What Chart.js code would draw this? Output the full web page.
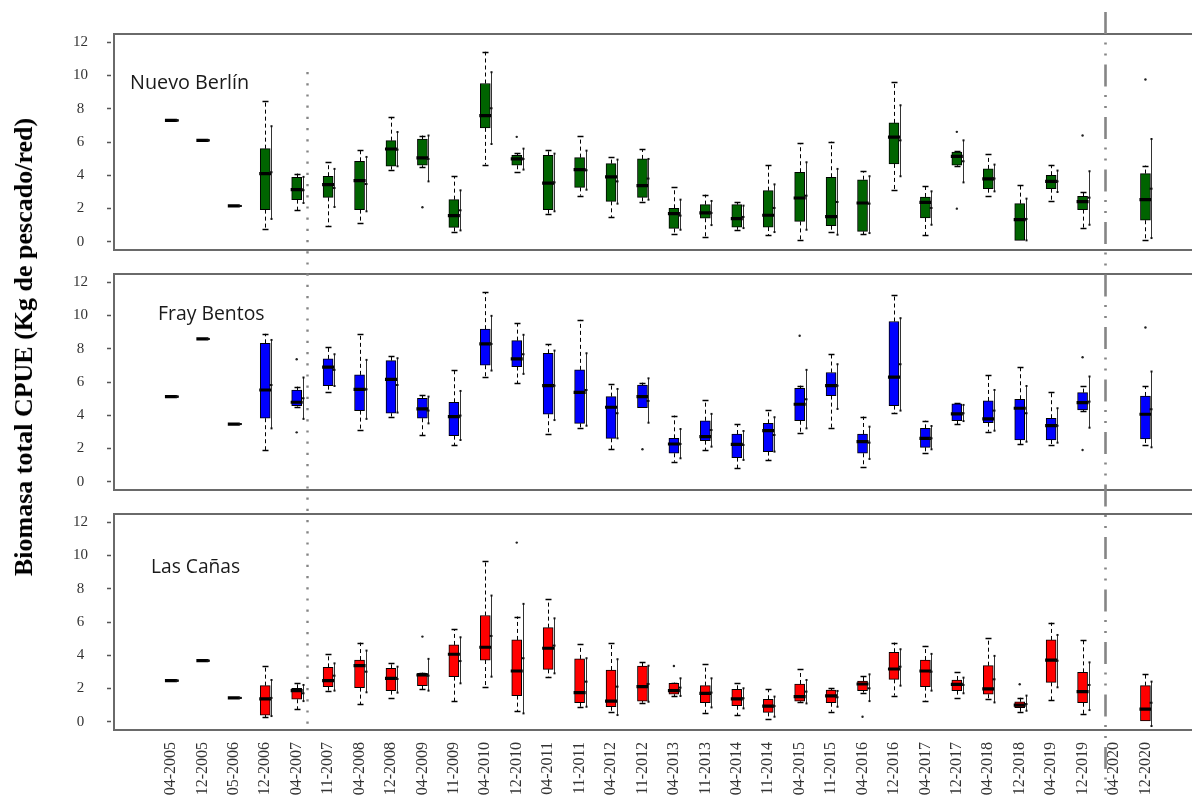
<!DOCTYPE html>
<html>
<head>
<meta charset="utf-8">
<script src="https://cdn.jsdelivr.net/npm/chart.js@4.4.1/dist/chart.umd.min.js"></script>
<style>
  html, body { margin: 0; padding: 0; background: #fff; overflow: hidden; }
  #wrap { position: relative; width: 1192px; height: 798px; overflow: hidden; background: #fff; }
  #wrap canvas { position: absolute; left: 0; }
  #ytitle {
    position: absolute;
    font: bold 26px "Liberation Serif", "Times New Roman", serif;
    line-height: 26px;
    color: #000;
    white-space: nowrap;
    transform: translate(-50%, -50%) rotate(-90deg);
  }
</style>
</head>
<body>
<div id="wrap">
  <canvas id="c1" width="1204" height="260" style="top:0px"></canvas>
  <canvas id="c2" width="1204" height="240" style="top:260px"></canvas>
  <canvas id="c3" width="1204" height="298" style="top:500px"></canvas>
  <div id="ytitle" style="left:24px; top:347px">Biomasa total CPUE (Kg de pescado/red)</div>
</div>
<script>
// Sampling campaigns (month-year)
const categories = ['04-2005','12-2005','05-2006','12-2006','04-2007','11-2007','04-2008','12-2008',
  '04-2009','11-2009','04-2010','12-2010','04-2011','11-2011','04-2012','11-2012','04-2013','11-2013',
  '04-2014','11-2014','04-2015','11-2015','04-2016','12-2016','04-2017','12-2017','04-2018','12-2018',
  '04-2019','12-2019','04-2020','12-2020'];
const yTicks = [0, 2, 4, 6, 8, 10, 12];
// Period boundaries, in campaign-index units
const periodBreaks = [4.33, 29.71];

// Nuevo Berlín
const nbMin  = [7.3, 6.1, 2.15, 0.76, 1.89, 0.96, 1.12, 4.34, 4.48, 0.58, 4.64, 4.18, 1.67, 2.77, 1.49, 2.39, 0.46, 0.28, 0.72, 0.40, 0.12, 0.56, 0.46, 3.13, 0.40, 4.54, 2.77, 0.08, 2.47, 0.82, null, 0.12];
const nbQ1   = [7.3, 6.1, 2.15, 1.93, 2.53, 2.67, 1.93, 4.54, 4.60, 0.86, 6.85, 4.60, 1.93, 3.27, 2.43, 2.67, 0.80, 1.41, 0.88, 0.88, 1.22, 0.96, 0.62, 4.68, 1.43, 4.60, 3.19, 0.08, 3.19, 1.93, null, 1.29];
const nbMed  = [7.3, 6.1, 2.15, 4.10, 3.13, 3.43, 3.67, 5.58, 5.04, 1.57, 7.59, 4.98, 3.53, 4.34, 3.90, 3.37, 1.69, 1.73, 1.39, 1.59, 2.63, 1.51, 2.33, 6.29, 2.37, 5.14, 3.78, 1.33, 3.63, 2.41, null, 2.53];
const nbQ3   = [7.3, 6.1, 2.15, 5.60, 3.88, 3.94, 4.84, 6.08, 6.18, 2.53, 9.52, 5.20, 5.20, 5.06, 4.70, 4.98, 2.01, 2.23, 2.23, 3.07, 4.18, 3.88, 3.73, 7.15, 2.69, 5.40, 4.38, 2.29, 4.00, 2.73, null, 4.10];
const nbMax  = [7.3, 6.1, 2.15, 8.49, 4.10, 4.78, 5.50, 7.51, 6.39, 3.94, 11.43, 5.34, 5.50, 6.35, 5.08, 5.58, 3.27, 2.83, 2.39, 4.64, 5.94, 6.02, 4.24, 9.60, 3.33, 5.44, 5.28, 3.41, 4.62, 2.97, null, 4.58];
const nbMean = [7.3, 6.1, 2.15, 4.18, 3.10, 3.23, 3.47, 5.54, 4.98, 1.89, 8.03, 4.98, 3.57, 4.30, 3.63, 3.80, 1.57, 1.73, 1.49, 2.03, 2.77, 2.39, 2.29, 6.10, 2.03, 4.84, 3.80, 1.37, 3.63, 2.65, null, 3.19];
const nbLo   = [7.3, 6.1, 2.15, 1.37, 2.33, 2.09, 1.83, 4.54, 3.63, 0.68, 5.88, 4.34, 1.83, 3.13, 2.29, 2.53, 0.72, 1.00, 0.82, 0.58, 0.72, 0.42, 0.52, 3.94, 1.02, 3.57, 3.03, 0.08, 2.99, 1.02, null, 0.22];
const nbHi   = [7.3, 6.1, 2.15, 6.95, 3.90, 4.38, 5.10, 6.60, 6.39, 3.09, 10.20, 5.60, 5.30, 5.48, 4.94, 4.98, 2.53, 2.45, 2.17, 3.45, 4.78, 4.38, 3.94, 8.21, 3.03, 6.10, 4.64, 2.59, 4.28, 4.24, null, 6.18];
const nbOut  = [[8, 2.07], [11, 6.31], [25, 6.61], [25, 1.99], [29, 6.39], [31, 9.76]];

// Fray Bentos
const fbMin  = [5.12, 8.59, 3.47, 1.91, 4.52, 5.38, 3.11, 3.92, 2.81, 2.21, 6.29, 5.92, 2.87, 3.25, 1.97, 4.46, 1.20, 1.91, 0.80, 1.31, 2.95, 3.25, 0.86, 4.12, 1.71, 3.47, 3.01, 2.27, 2.21, 4.26, null, 2.19];
const fbQ1   = [5.12, 8.59, 3.47, 3.82, 4.58, 5.78, 4.28, 4.12, 3.82, 2.77, 7.01, 6.93, 4.06, 3.51, 2.61, 4.46, 1.71, 2.47, 1.45, 1.81, 3.67, 5.18, 1.71, 4.58, 2.07, 3.67, 3.55, 2.51, 2.51, 4.32, null, 2.57];
const fbMed  = [5.12, 8.59, 3.47, 5.52, 4.78, 6.89, 5.56, 6.16, 4.38, 3.92, 8.29, 7.39, 5.78, 5.38, 4.48, 5.12, 2.27, 2.71, 2.25, 3.07, 4.66, 5.78, 2.41, 6.29, 2.61, 4.08, 3.78, 4.42, 3.37, 4.76, null, 4.06];
const fbQ3   = [5.12, 8.59, 3.47, 8.33, 5.52, 7.39, 6.43, 7.29, 5.02, 4.78, 9.18, 8.49, 7.73, 6.73, 5.12, 5.82, 2.61, 3.67, 2.87, 3.51, 5.62, 6.57, 2.87, 9.64, 3.21, 4.68, 4.86, 4.96, 3.82, 5.36, null, 5.16];
const fbMax  = [5.12, 8.59, 3.47, 8.90, 5.72, 8.13, 8.88, 7.59, 5.22, 6.73, 11.41, 9.54, 8.27, 9.74, 5.88, 5.96, 3.98, 4.92, 3.45, 4.32, 5.78, 7.67, 3.92, 11.24, 3.67, 4.72, 6.43, 6.93, 5.38, 5.76, null, 5.76];
const fbMean = [5.12, 8.59, 3.47, 5.82, 5.02, 6.73, 5.56, 5.82, 4.28, 3.98, 8.29, 7.67, 5.78, 5.52, 4.12, 4.86, 2.27, 3.11, 2.21, 2.81, 4.96, 5.78, 2.35, 7.07, 2.61, 4.12, 4.28, 4.12, 3.37, 4.82, null, 4.36];
const fbLo   = [5.12, 8.59, 3.47, 3.21, 3.78, 5.76, 3.78, 4.16, 3.51, 2.51, 6.69, 6.49, 3.71, 3.37, 2.61, 3.55, 1.41, 2.11, 1.31, 1.81, 3.21, 4.38, 1.37, 4.28, 1.95, 3.65, 3.07, 2.41, 2.35, 3.25, null, 2.07];
const fbHi   = [5.12, 8.59, 3.47, 8.53, 6.27, 7.67, 7.33, 7.43, 5.12, 5.46, 9.98, 8.84, 7.89, 7.73, 5.58, 6.22, 3.17, 4.08, 3.05, 3.88, 6.73, 7.07, 3.31, 9.84, 3.35, 4.62, 5.52, 5.76, 4.42, 6.33, null, 6.63];
const fbOut  = [[4, 7.37], [4, 2.97], [15, 1.95], [20, 8.78], [29, 7.49], [29, 1.91], [31, 9.28]];

// Las Cañas
const lcMin  = [2.47, 3.67, 1.43, 0.26, 0.76, 1.85, 1.06, 1.45, 1.95, 1.24, 2.11, 0.64, 2.71, 0.90, 0.60, 1.14, 1.55, 0.54, 0.40, 0.16, 1.20, 0.60, 1.75, 1.57, 1.24, 1.45, 1.35, 0.56, 1.31, 0.46, null, 0.04];
const lcQ1   = [2.47, 3.67, 1.43, 0.40, 1.35, 2.11, 2.05, 1.87, 2.17, 2.71, 3.71, 1.57, 3.15, 1.14, 0.90, 1.24, 1.65, 1.14, 0.96, 0.56, 1.24, 1.14, 1.87, 2.55, 2.11, 1.87, 1.65, 0.84, 2.37, 1.14, null, 0.04];
const lcMed  = [2.47, 3.67, 1.43, 1.37, 1.87, 2.47, 3.37, 2.61, 2.81, 4.06, 4.48, 3.05, 4.42, 1.75, 1.24, 2.11, 1.87, 1.71, 1.37, 0.94, 1.51, 1.55, 2.27, 3.17, 3.05, 2.25, 1.97, 1.00, 3.71, 1.81, null, 0.76];
const lcQ3   = [2.47, 3.67, 1.43, 2.17, 2.01, 3.27, 3.71, 3.21, 2.91, 4.62, 6.39, 4.92, 5.66, 3.78, 3.11, 3.35, 2.31, 2.17, 1.95, 1.35, 2.27, 1.91, 2.45, 4.18, 3.71, 2.51, 3.37, 1.20, 4.92, 2.97, null, 2.17];
const lcMax  = [2.47, 3.67, 1.43, 3.37, 2.31, 4.08, 4.76, 3.51, 2.95, 5.58, 9.68, 6.33, 7.37, 4.68, 4.76, 3.57, 2.35, 3.45, 2.35, 1.95, 3.15, 2.01, 2.77, 4.76, 4.56, 2.97, 5.02, 1.45, 5.96, 4.92, null, 2.87];
const lcMean = [2.47, 3.67, 1.43, 1.43, 1.71, 2.77, 3.01, 2.57, 2.77, 3.65, 5.16, 3.82, 4.58, 2.41, 2.11, 2.27, 2.05, 1.75, 1.41, 0.94, 1.81, 1.47, 2.01, 3.31, 3.01, 2.21, 2.55, 1.06, 3.67, 2.21, null, 1.14];
const lcLo   = [2.47, 3.67, 1.43, 0.34, 1.24, 1.87, 1.77, 1.75, 1.87, 2.31, 2.71, 0.50, 2.91, 0.90, 0.40, 1.20, 1.55, 0.86, 0.80, 0.30, 1.10, 0.90, 1.24, 2.17, 1.87, 1.71, 1.16, 0.66, 2.07, 0.70, null, -0.26];
const lcHi   = [2.47, 3.67, 1.43, 2.51, 2.21, 3.51, 4.28, 3.31, 3.78, 5.08, 7.59, 7.09, 6.22, 3.82, 3.76, 3.37, 2.61, 2.61, 2.01, 1.51, 2.51, 1.85, 2.85, 4.36, 4.08, 2.65, 3.96, 1.57, 5.22, 3.57, null, 2.41];
const lcOut  = [[8, 5.12], [11, 10.78], [16, 3.35], [22, 0.30], [27, 2.25]];

// Horizontal extent of the campaign axis (index units)
const X_MIN = -1.811, X_MAX = 32.57;

function seg(ctx, x0, y0, x1, y1) {
  ctx.beginPath(); ctx.moveTo(x0, y0); ctx.lineTo(x1, y1); ctx.stroke();
}

// Whiskers, mean lines, frame, period separators and the site name
function decorPlugin(s, canvasTop, label) {
  return {
    id: 'decor',
    beforeDatasetsDraw(chart) {
      const { ctx, scales: { x, y } } = chart;
      ctx.save();
      ctx.strokeStyle = '#000';
      ctx.lineWidth = 1;
      s.min.forEach((lo, i) => {
        if (lo == null) return;
        const px = Math.round(x.getPixelForValue(i)) + 0.5;
        const parts = [];
        if (s.max[i] > s.q3[i]) parts.push([s.q3[i], s.max[i]]);
        if (lo < s.q1[i]) parts.push([s.q1[i], lo]);
        parts.forEach(([a, b]) => {
          ctx.setLineDash([4, 3]);
          seg(ctx, px, y.getPixelForValue(a), px, y.getPixelForValue(b));
          ctx.setLineDash([]);
          const yc = Math.round(y.getPixelForValue(b)) + 0.5;
          ctx.lineWidth = 1.5;
          seg(ctx, px - 3, yc, px + 3, yc);
          ctx.lineWidth = 1;
        });
      });
      ctx.restore();
    },
    afterDatasetsDraw(chart) {
      const { ctx, chartArea: a, scales: { x, y } } = chart;
      ctx.save();
      ctx.beginPath();
      ctx.rect(a.left, a.top, a.right - a.left, a.bottom - a.top);
      ctx.clip();
      s.mean.forEach((m, i) => {
        if (m == null) return;
        const sx = Math.round(x.getPixelForValue(i)) + 6.5;
        const yh = y.getPixelForValue(s.hi[i]);
        const yl = y.getPixelForValue(s.lo[i]);
        const ym = y.getPixelForValue(m);
        ctx.strokeStyle = '#333';
        ctx.lineWidth = 1;
        if (yl - yh > 1) seg(ctx, sx, yh, sx, yl);
        ctx.fillStyle = '#111';
        ctx.fillRect(sx - 1, yh - 1, 2, 2);
        ctx.fillRect(sx - 1, yl - 1, 2, 2);
        ctx.fillRect(sx - 2, ym - 1, 3, 2);
      });
      ctx.restore();
    },
    afterDraw(chart) {
      const { ctx, chartArea: a, scales: { x }, height } = chart;
      ctx.save();
      ctx.strokeStyle = '#6a6a6a';
      ctx.lineWidth = 2;
      ctx.strokeRect(a.left, a.top, a.right - a.left, a.bottom - a.top);

      const breaks = [
        { at: periodBreaks[0], from: 72, to: 731, dash: [2.2, 9], width: 2.4 },
        { at: periodBreaks[1], from: 12, to: 800, dash: [22, 8.5, 2, 9, 2, 9], width: 2.6 }
      ];
      breaks.forEach(b => {
        const px = Math.round(x.getPixelForValue(b.at)) + 0.5;
        const y0 = Math.max(0, b.from - canvasTop);
        const y1 = Math.min(height, b.to - canvasTop);
        if (y1 <= y0) return;
        ctx.strokeStyle = '#858585';
        ctx.lineWidth = b.width;
        ctx.setLineDash(b.dash);
        ctx.lineDashOffset = y0 + canvasTop - b.from;
        seg(ctx, px, y0, px, y1);
      });
      ctx.setLineDash([]);

      ctx.fillStyle = '#1a1a1a';
      ctx.font = label.size + 'px "Open Sans", sans-serif';
      ctx.textBaseline = 'alphabetic';
      ctx.textAlign = 'left';
      ctx.fillText(label.text, label.x, label.y);
      ctx.restore();
    }
  };
}

function makePanel(id, s, fill, canvasTop, padTop, padBottom, showX, label) {
  const boxes = [], medians = [];
  s.q1.forEach((q, i) => {
    if (q == null) return;
    boxes.push({ x: i, y: [q, s.q3[i]] });
    medians.push({ x: i, y: s.med[i] });
  });
  const outliers = s.out.map(([i, v]) => ({ x: i, y: v }));

  return new Chart(document.getElementById(id), {
    type: 'bar',
    data: {
      datasets: [
        {
          type: 'bar', data: boxes, backgroundColor: fill, borderColor: '#000',
          borderWidth: 1, borderSkipped: false, barThickness: 10, order: 3
        },
        {
          type: 'scatter', data: medians, pointStyle: 'line', pointRadius: 6,
          borderColor: '#000', borderWidth: 3.2, order: 2
        },
        {
          type: 'scatter', data: outliers, pointStyle: 'circle', pointRadius: 1.2,
          backgroundColor: '#222', borderWidth: 0, order: 1
        }
      ]
    },
    options: {
      responsive: false,
      animation: false,
      devicePixelRatio: 1,
      events: [],
      layout: { padding: { top: padTop, bottom: padBottom, left: 0, right: 8 } },
      plugins: { legend: { display: false }, tooltip: { enabled: false } },
      scales: {
        x: {
          type: 'linear', min: X_MIN, max: X_MAX, display: showX, offset: false,
          afterBuildTicks: sc => { sc.ticks = categories.map((c, i) => ({ value: i })); },
          afterFit: sc => { if (showX) sc.height = 68; },
          border: { display: false },
          grid: { display: false, drawTicks: false, offset: false },
          ticks: {
            autoSkip: false, minRotation: 90, maxRotation: 90, padding: 12,
            color: '#333', font: { family: '"Liberation Serif", "Times New Roman", serif', size: 16 },
            callback: v => categories[v] ?? ''
          }
        },
        y: {
          min: -0.5, max: 12.5,
          afterBuildTicks: sc => { sc.ticks = yTicks.map(v => ({ value: v })); },
          afterFit: sc => { sc.width = 114; },
          border: { display: false },
          grid: {
            drawOnChartArea: false, drawTicks: true, tickLength: 25,
            tickColor: '#555', tickWidth: 1.5, tickBorderDash: [0, 18, 4, 40]
          },
          ticks: {
            padding: 1, crossAlign: 'center', color: '#333',
            font: { family: '"Liberation Serif", "Times New Roman", serif', size: 15 }
          }
        }
      }
    },
    plugins: [decorPlugin(s, canvasTop, label)]
  });
}

makePanel('c1',
  { min: nbMin, q1: nbQ1, med: nbMed, q3: nbQ3, max: nbMax, mean: nbMean, lo: nbLo, hi: nbHi, out: nbOut },
  '#006400', 0, 34, 10, false, { text: 'Nuevo Berlín', x: 130, y: 89, size: 19.8 });
makePanel('c2',
  { min: fbMin, q1: fbQ1, med: fbMed, q3: fbQ3, max: fbMax, mean: fbMean, lo: fbLo, hi: fbHi, out: fbOut },
  '#0000ff', 260, 14, 10, false, { text: 'Fray Bentos', x: 158, y: 59.5, size: 19.4 });
makePanel('c3',
  { min: lcMin, q1: lcQ1, med: lcMed, q3: lcQ3, max: lcMax, mean: lcMean, lo: lcLo, hi: lcHi, out: lcOut },
  '#ff0000', 500, 14, 0, true, { text: 'Las Cañas', x: 151, y: 73, size: 19.2 });
</script>
</body>
</html>
